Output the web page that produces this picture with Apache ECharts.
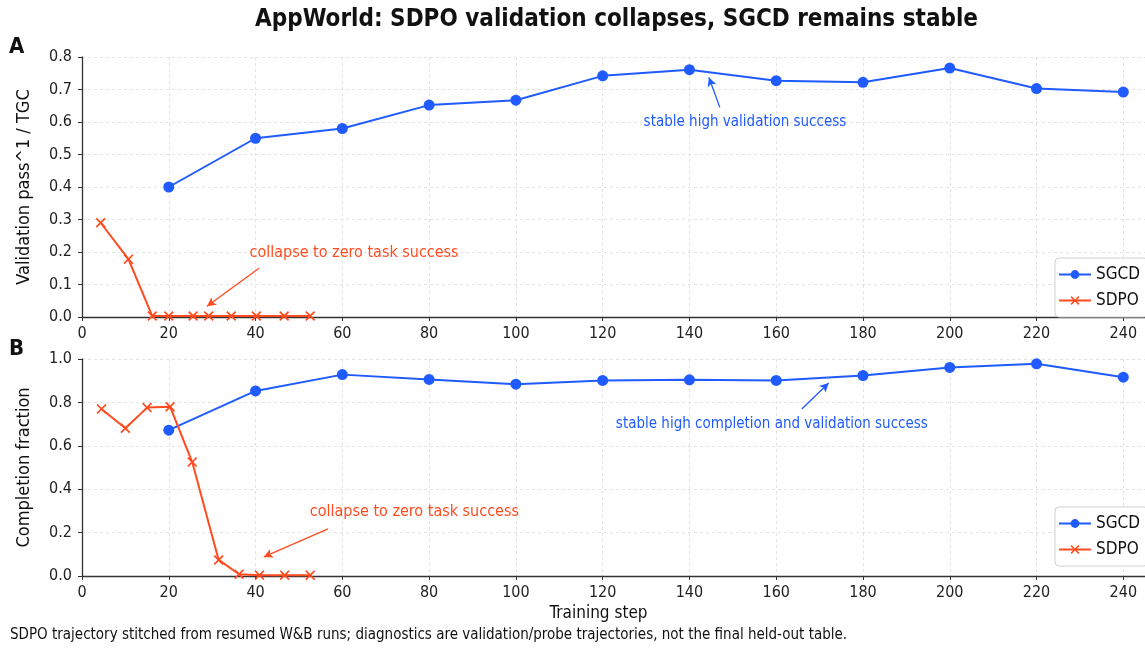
<!DOCTYPE html>
<html>
<head>
<meta charset="utf-8">
<script src="https://cdn.jsdelivr.net/npm/echarts@6/dist/echarts.min.js"></script>
<style>
  html, body { margin: 0; padding: 0; background: #fff; }
  #chart { width: 1145px; height: 650px; }
</style>
</head>
<body>
<div id="chart"></div>
<script>
// SGCD is evaluated every 20 steps, same steps in both panels
var sgcdSteps = [20, 40, 60, 80, 100, 120, 140, 160, 180, 200, 220, 240];
var sgcdValid = [0.40, 0.55, 0.58, 0.652, 0.667, 0.742, 0.761, 0.727, 0.722, 0.766, 0.703, 0.692];
var sgcdCompl = [0.672, 0.853, 0.928, 0.906, 0.884, 0.901, 0.904, 0.901, 0.924, 0.961, 0.978, 0.916];

// SDPO (stitched runs)
var sdpoStepsA = [4.3, 10.7, 16.2, 20, 25.6, 29.2, 34.4, 40.2, 46.6, 52.6];
var sdpoValid = [0.29, 0.178, 0.003, 0.003, 0.003, 0.003, 0.003, 0.003, 0.003, 0.003];
var sdpoStepsB = [4.5, 10.0, 15.0, 20.3, 25.4, 31.5, 36.2, 40.9, 46.7, 52.6];
var sdpoCompl = [0.770, 0.681, 0.776, 0.780, 0.525, 0.074, 0.008, 0.004, 0.004, 0.004];

var yTicksA = [0, 0.1, 0.2, 0.3, 0.4, 0.5, 0.6, 0.7, 0.8];
var yTicksB = [0, 0.2, 0.4, 0.6, 0.8, 1.0];

// annotation anchors in data units: [text, textPos, arrowFrom, arrowTo]
var noteCollapseA = ['collapse to zero task success', [62.7, 0.196], [40.8, 0.15], [28.8, 0.033]];
var noteStableA = ['stable high validation success', [152.8, 0.599], [147, 0.645], [144.5, 0.737]];
var noteCollapseB = ['collapse to zero task success', [76.6, 0.295], [56.7, 0.217], [41.9, 0.088]];
var noteStableB = ['stable high completion and validation success', [159, 0.70], [165.9, 0.77], [172.1, 0.889]];

var BLUE = '#1f5bff';
var ORANGE = '#ff4b1f';
var FONT = '"DejaVu Sans Condensed", "DejaVu Sans", sans-serif';
var xMark = 'path://M0,1.2L1.2,0L5,3.8L8.8,0L10,1.2L6.2,5L10,8.8L8.8,10L5,6.2L1.2,10L0,8.8L3.8,5Z';

function zip(xs, ys) {
    return xs.map(function (x, i) { return [x, ys[i]]; });
}

function note(n, color, size) {
    return {
        markLine: {
            silent: true,
            symbol: ['none', 'arrow'],
            symbolSize: [7, 9],
            label: { show: false },
            lineStyle: { color: color, width: 1.3, type: 'solid' },
            data: [[{ coord: n[2] }, { coord: n[3] }]]
        },
        markPoint: {
            silent: true,
            symbol: 'rect',
            symbolSize: 1,
            itemStyle: { color: 'rgba(0,0,0,0)' },
            label: {
                show: true, position: 'inside', formatter: n[0],
                color: color, fontSize: size, fontFamily: FONT
            },
            data: [{ coord: n[1] }]
        }
    };
}

function lineSeries(name, idx, data, color, symbol, size, n, noteSize) {
    var s = {
        name: name,
        type: 'line',
        xAxisIndex: idx,
        yAxisIndex: idx,
        data: data,
        symbol: symbol,
        symbolSize: size,
        showSymbol: true,
        lineStyle: { color: color, width: 2 },
        itemStyle: { color: color },
        emphasis: { disabled: true },
        z: name === 'SGCD' ? 3 : 4
    };
    var extra = note(n, color, noteSize);
    s.markLine = extra.markLine;
    s.markPoint = extra.markPoint;
    return s;
}

function xAxisOf(idx, named) {
    return {
        type: 'value', gridIndex: idx, min: 0, max: 245, interval: 20,
        name: named ? 'Training step' : '',
        nameLocation: 'middle', nameGap: 29,
        nameTextStyle: { fontSize: 17, color: '#111', fontFamily: FONT, padding: [0, 30, 0, 0] },
        axisLine: { onZero: false, lineStyle: { color: '#333', width: 1.3 } },
        axisTick: { show: true, length: 4, lineStyle: { color: '#333' } },
        axisLabel: { fontSize: 16, color: '#222', fontFamily: FONT, margin: 9, showMaxLabel: false },
        splitLine: { show: true, showMaxLine: false, lineStyle: { color: '#e3e3e3', type: [3, 3] } }
    };
}

function yAxisOf(idx, name, ticks) {
    return {
        type: 'value', gridIndex: idx, min: ticks[0], max: ticks[ticks.length - 1],
        interval: ticks[1] - ticks[0],
        name: name, nameLocation: 'middle', nameGap: 49, nameRotate: 90,
        nameTextStyle: { fontSize: 18, color: '#111', fontFamily: FONT },
        axisLine: { show: true, lineStyle: { color: '#333', width: 1.3 } },
        axisTick: { show: true, length: 4, lineStyle: { color: '#333' } },
        axisLabel: {
            fontSize: 16, color: '#222', fontFamily: FONT, margin: 10,
            formatter: function (v) { return v.toFixed(1); }
        },
        splitLine: { show: true, lineStyle: { color: '#e3e3e3', type: [3, 3] } }
    };
}

function legendAt(top) {
    return {
        orient: 'vertical', right: -3, top: top,
        data: ['SGCD', 'SDPO'],
        itemWidth: 32, itemHeight: 11, itemGap: 9,
        padding: [8, 8, 8, 3],
        backgroundColor: '#fff', borderColor: '#d0d0d0', borderWidth: 1, borderRadius: 4,
        textStyle: { fontSize: 17, color: '#111', fontFamily: FONT },
        selectedMode: false
    };
}

var chart = echarts.init(document.getElementById('chart'), null, { renderer: 'canvas' });
chart.setOption({
    animation: false,
    backgroundColor: '#fff',
    title: {
        text: 'AppWorld: SDPO validation collapses, SGCD remains stable',
        left: 250, top: 3,
        textStyle: { fontSize: 24, fontWeight: 'bold', color: '#111', fontFamily: FONT }
    },
    legend: [legendAt(258), legendAt(507)],
    grid: [
        { left: 82, top: 57, right: 0, height: 260 },
        { left: 82, top: 359, right: 0, height: 217 }
    ],
    xAxis: [xAxisOf(0, false), xAxisOf(1, true)],
    yAxis: [
        yAxisOf(0, 'Validation pass^1 / TGC', yTicksA),
        yAxisOf(1, 'Completion fraction', yTicksB)
    ],
    series: [
        lineSeries('SGCD', 0, zip(sgcdSteps, sgcdValid), BLUE, 'circle', 11, noteStableA, 15),
        lineSeries('SDPO', 0, zip(sdpoStepsA, sdpoValid), ORANGE, xMark, 10, noteCollapseA, 16),
        lineSeries('SGCD', 1, zip(sgcdSteps, sgcdCompl), BLUE, 'circle', 11, noteStableB, 15),
        lineSeries('SDPO', 1, zip(sdpoStepsB, sdpoCompl), ORANGE, xMark, 10, noteCollapseB, 16)
    ],
    graphic: [
        { type: 'text', left: 9, top: 36, style: { text: 'A', fontSize: 22, fontWeight: 'bold', fill: '#111', fontFamily: FONT } },
        { type: 'text', left: 9, top: 338, style: { text: 'B', fontSize: 22, fontWeight: 'bold', fill: '#111', fontFamily: FONT } },
        {
            type: 'text', left: 10, top: 628,
            style: {
                text: 'SDPO trajectory stitched from resumed W&B runs; diagnostics are validation/probe trajectories, not the final held-out table.',
                fontSize: 15, fill: '#111', fontFamily: FONT
            }
        }
    ]
});
</script>
</body>
</html>
